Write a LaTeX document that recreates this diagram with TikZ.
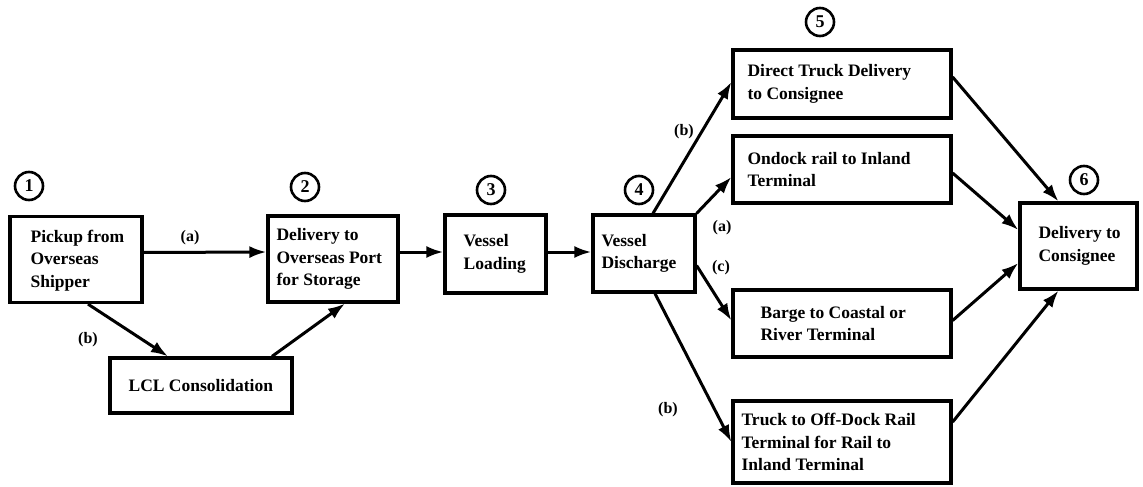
\documentclass[tikz,border=0pt]{standalone}
\usepackage{fontspec}
\setmainfont{Liberation Serif}
\usetikzlibrary{arrows.meta,calc}
\begin{document}
\begin{tikzpicture}[x=1pt,y=-1pt,
  box/.style={draw,line width=3.2pt,minimum width=#1,inner sep=0pt},
  txt/.style={anchor=west,align=left,font=\fontsize{17.5}{22.5}\selectfont\bfseries,inner sep=0pt},
  num/.style={draw,circle,line width=2.6pt,minimum size=28pt,inner sep=0pt,font=\fontsize{18}{18}\selectfont\bfseries},
  arr/.style={line width=3pt,-{Latex[length=17pt,width=12pt]}},
  lab/.style={font=\fontsize{16}{16}\selectfont\bfseries,inner sep=1pt}]
\useasboundingbox (0,0) rectangle (1143,487);
% boxes
\node[box=132pt,minimum height=86pt] (b1) at (76,259.5) {};
\node[box=130pt,minimum height=86pt] (b2) at (333,259) {};
\node[box=182pt,minimum height=55pt] (lcl) at (201,385.5) {};
\node[box=101pt,minimum height=78pt] (b3) at (495.5,254) {};
\node[box=102pt,minimum height=77pt] (b4) at (644,253.5) {};
\node[box=218pt,minimum height=68pt] (dt) at (842,84) {};
\node[box=218pt,minimum height=67pt] (od) at (842,169.5) {};
\node[box=218pt,minimum height=67pt] (bg) at (842,323.5) {};
\node[box=218pt,minimum height=82pt] (tk) at (842,442) {};
\node[box=117pt,minimum height=86pt] (b6) at (1078.5,246) {};
% texts
\node[txt] (t1) at ($(b1.west)+(22,1)$) {Pickup from\\Overseas\\Shipper};
\node[txt] (t2) at ($(b2.west)+(10,0)$) {Delivery to\\Overseas Port\\for Storage};
\node[txt] (tl) at ($(lcl.west)+(20,0)$) {LCL Consolidation};
\node[txt] (t3) at ($(b3.west)+(20,0)$) {Vessel\\Loading};
\node[txt] (t4) at ($(b4.west)+(10,0)$) {Vessel\\Discharge};
\node[txt] (tdt) at ($(dt.west)+(16,0)$) {Direct Truck Delivery\\to Consignee};
\node[txt] (tod) at ($(od.west)+(16,0)$) {Ondock rail to Inland\\Terminal};
\node[txt] (tbg) at ($(bg.west)+(29,0)$) {Barge to Coastal or\\River Terminal};
\node[txt] (ttk) at ($(tk.west)+(10,0)$) {Truck to Off-Dock Rail\\Terminal for Rail to\\Inland Terminal};
\node[txt] (t6) at ($(b6.west)+(20,0)$) {Delivery to\\Consignee};
% circled numbers
\node[num] (n1) at (29,186) {1};
\node[num] (n2) at (305,187) {2};
\node[num] (n3) at (491,190) {3};
\node[num] (n4) at (639,190) {4};
\node[num] (n5) at (820,22) {5};
\node[num] (n6) at (1084,180) {6};
% connectors
\draw[arr] ($(b1.east)+(0,-7)$) -- ($(b2.west)+(0,-7)$);
\draw[arr] ($(b1.south)+(12,0)$) -- ($(lcl.north)+(-33,0)$);
\draw[arr] ($(lcl.north)+(71,0)$) -- ($(b2.south)+(12,0)$);
\draw[arr] ($(b2.east)+(0,-7)$) -- ($(b3.west)+(0,-2)$);
\draw[arr] ($(b3.east)+(0,-2)$) -- ($(b4.west)+(0,-1.5)$);
\draw[arr] ($(b4.north)+(9,0)$) -- ($(dt.west)+(0,-2)$);
\draw[arr] (b4.north east) -- ($(od.west)+(0,7.5)$);
\draw[arr] ($(b4.east)+(0,12)$) -- ($(bg.west)+(0,-3)$);
\draw[arr] ($(b4.south)+(11,0)$) -- (tk.west);
\draw[arr] ($(dt.east)+(0,-7)$) -- ($(b6.north)+(-20,0)$);
\draw[arr] ($(od.east)+(0,3.5)$) -- ($(b6.west)+(0,-16)$);
\draw[arr] ($(bg.east)+(0,-3)$) -- ($(b6.west)+(0,17)$);
\draw[arr] ($(tk.east)+(0,-20)$) -- ($(b6.south)+(-20,0)$);
% labels
\node[lab] (la1) at (190,238) {(a)};
\node[lab] (lb1) at (88,340) {(b)};
\node[lab] (lb2) at (684,132) {(b)};
\node[lab] (la2) at (722,228) {(a)};
\node[lab] (lc) at (721,268) {(c)};
\node[lab] (lb3) at (668,410) {(b)};
\end{tikzpicture}
\end{document}
